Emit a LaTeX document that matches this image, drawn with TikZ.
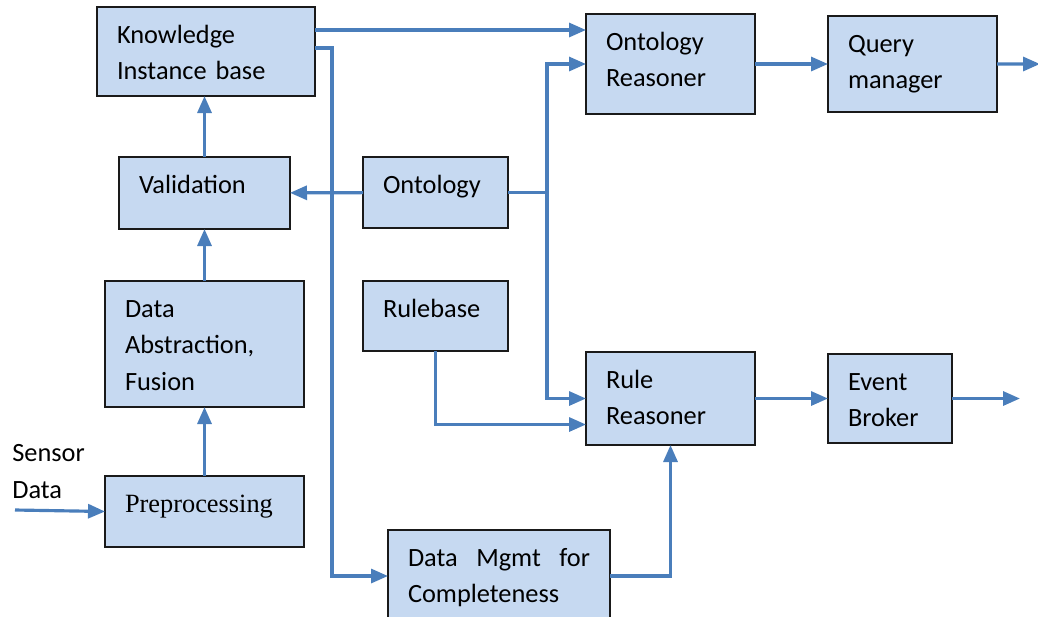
\documentclass[tikz,border=0pt]{standalone}
\usepackage{fontspec}
\setmainfont{Carlito}
\newfontfamily\prepfont{Liberation Serif}
\usetikzlibrary{arrows.meta,positioning,calc}
\definecolor{cBoxFill}{HTML}{C6D9F1}
\definecolor{cBoxLine}{HTML}{1A1A1A}
\definecolor{cFlow}{HTML}{4A7EBB}

\begin{document}
\begin{tikzpicture}[
  font=\fontsize{15}{20.8}\selectfont,
  blockbox/.style={
    draw=cBoxLine, line width=0.7pt, fill=cBoxFill,
    align=left, inner xsep=0.4cm, inner ysep=0.07cm, outer sep=0pt,
    text height=0.65cm, anchor=north west,
  },
  flowline/.style={
    draw=cFlow, line width=1.8pt, -{Triangle[length=0.34cm,width=0.28cm]},
  },
]
\useasboundingbox (0,0) rectangle (20.76,-12.32);

% --- left column (bottom-up pipeline) ---
\node[blockbox, text width=3.56cm, minimum height=1.78cm, text depth=0.99cm] (know)
  at (1.94,-0.14) {Knowledge\\Instance base};
\node[blockbox, text width=2.62cm, minimum height=1.44cm, text depth=0.65cm] (valid)
  at (2.38,-3.14) {Validation};
\node[blockbox, text width=3.18cm, minimum height=2.52cm, text depth=1.73cm] (abstr)
  at (2.10,-5.62) {Data\\Abstraction,\\Fusion};
\node[blockbox, text width=3.18cm, minimum height=1.42cm, text depth=0.63cm,
      font=\prepfont\fontsize{15}{18}\selectfont] (prep)
  at (2.10,-9.52) {Preprocessing};
\node[anchor=west, inner sep=0pt, align=left] (senslbl) at (0.24,-9.43)
  {Sensor\\Data};

% --- middle column ---
\node[blockbox, text width=2.10cm, minimum height=1.42cm, text depth=0.63cm] (onto)
  at (7.26,-3.14) {Ontology};
\node[blockbox, text width=2.10cm, minimum height=1.40cm, text depth=0.61cm,
      below=1.06cm of onto] (rules) {Rulebase};
\node[blockbox, text width=3.64cm, minimum height=1.84cm, text depth=1.05cm] (dmgmt)
  at (7.76,-10.60) {Data\hfill Mgmt\hfill for\\Completeness};

% --- reasoners and outputs ---
\node[blockbox, text width=2.58cm, minimum height=2.00cm, text depth=1.21cm] (ontreas)
  at (11.72,-0.28) {Ontology\\Reasoner};
\node[blockbox, text width=2.58cm, minimum height=1.92cm, text depth=1.13cm,
      right=1.46cm of ontreas] (query) {Query\\manager};
\node[blockbox, text width=2.58cm, minimum height=1.86cm, text depth=1.07cm] (rulreas)
  at (11.72,-7.04) {Rule\\Reasoner};
\node[blockbox, text width=1.68cm, minimum height=1.78cm, text depth=0.99cm,
      right=1.46cm of rulreas] (event) {Event\\Broker};

% free ends and tap points
\coordinate (sensin) at (0.30,-10.20);
\coordinate (kout) at ([yshift=0.43cm]know.east);
\coordinate (rrin) at ([yshift=-0.52cm]rulreas.west);
\coordinate (qout) at (20.80,-1.28);
\coordinate (eout) at (20.40,-7.97);

\draw[flowline] (sensin) -- (prep.west);
\draw[flowline] (prep) -- (abstr);
\draw[flowline] (abstr) -- (valid);
\draw[flowline] (valid) -- (valid.north |- know.south);
\draw[flowline] (onto) -- (valid);

\draw[flowline] (kout) -- (kout -| ontreas.west);
\draw[flowline] ([yshift=0.07cm]know.east) -- ++(0.34,0) |- (dmgmt.west);
\draw[flowline] (onto.east) -- ++(0.78,0) coordinate (ojoin) |- (ontreas.west);
\draw[flowline] (ojoin) |- (rulreas.west);
\draw[flowline] (rules.south) |- (rrin);
\draw[flowline] (dmgmt.east) -| (rulreas.south);

\draw[flowline] (ontreas) -- (query);
\draw[flowline] (query.east) -- (qout);
\draw[flowline] (rulreas) -- (event);
\draw[flowline] (event.east) -- (eout);

\end{tikzpicture}
\end{document}
